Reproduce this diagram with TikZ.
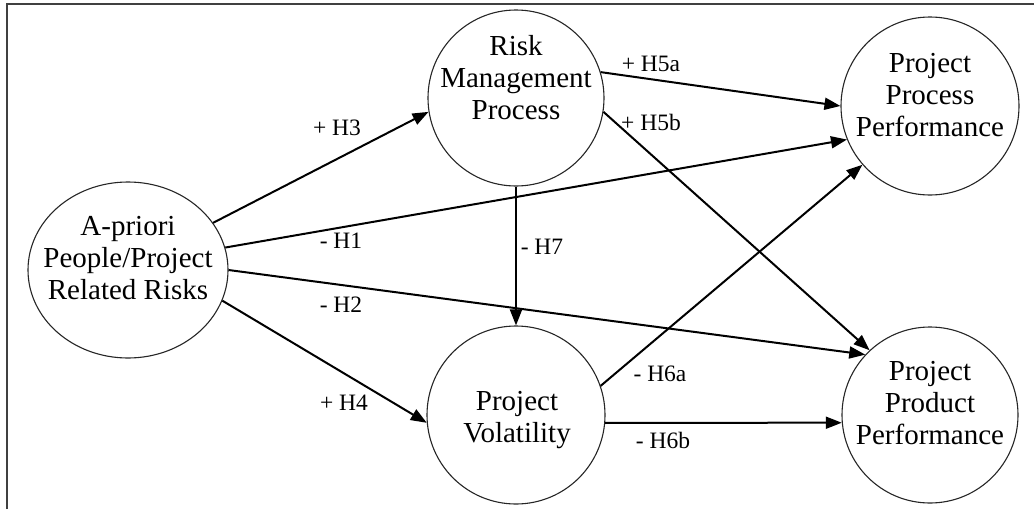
\documentclass[tikz,border=0pt]{standalone}
\usepackage{fontspec}
\setmainfont{Liberation Serif}
\usetikzlibrary{arrows.meta,shapes.geometric}
\begin{document}
\begin{tikzpicture}[x=1pt,y=-1pt,
  circ/.style={circle,draw=black!85,line width=1.1pt,minimum size=178pt,inner sep=0pt},
  ell/.style={ellipse,draw=black!85,line width=1.1pt,minimum width=200pt,minimum height=176pt,inner sep=0pt},
  txt/.style={align=center,font=\fontsize{29}{32}\selectfont,inner sep=0pt},
  lab/.style={font=\fontsize{23.5}{26}\selectfont,inner sep=0pt},
  arr/.style={line width=2pt,-{Triangle[length=16pt,width=12pt]}}]
\useasboundingbox (0,0) rectangle (1034,509);
\fill[white] (0,0) rectangle (1034,509);
\draw[black!75,line width=1.5pt] (7,509) -- (7,4) -- (1034,4);
% circles
\node[ell] (ap) at (128,270) {};
\node[circ,minimum size=176pt] (rmp) at (516,98) {};
\node[circ] (ppp) at (930,106) {};
\node[circ] (pv) at (516,415) {};
\node[circ,minimum size=176pt] (ppr) at (930,415) {};
% texts
\node[txt] (apt) at (128,258) {A-priori\\People/Project\\Related Risks};
\node[txt] (rmpt) at (516,78) {Risk\\Management\\Process};
\node[txt] (pppt) at (930,95) {Project\\Process\\Performance};
\node[txt] (pvt) at (517,420) {Project\\Volatility};
\node[txt] (pprt) at (930,403) {Project\\Product\\Performance};
% arrows
\draw[arr] (ap.29.5) -- (rmp.189.5);
\draw[arr] (ap.13) -- (ppp.202);
\draw[arr] (ap.0) -- (ppr.137.4);
\draw[arr] (ap.-18.8) -- (pv.185);
\draw[arr] (rmp.17.8) -- (ppp.180);
\draw[arr] (rmp.-9.6) -- (ppr.133.2);
\draw[arr] (rmp.-90) -- (pv.90);
\draw[arr] (pv.19.9) -- (ppp.221.7);
\draw[arr] (pv.-5.8) -- (ppr.185.8);
% labels
\node[lab] (l3) at (337,128) {+ H3};
\node[lab] (l1) at (341,241) {- H1};
\node[lab] (l2) at (341,305) {- H2};
\node[lab] (l4) at (344,403) {+ H4};
\node[lab] (l5a) at (651,64) {+ H5a};
\node[lab] (l5b) at (651,122) {+ H5b};
\node[lab] (l7) at (542,247) {- H7};
\node[lab] (l6a) at (660,374) {- H6a};
\node[lab] (l6b) at (663,440) {- H6b};
\end{tikzpicture}
\end{document}
